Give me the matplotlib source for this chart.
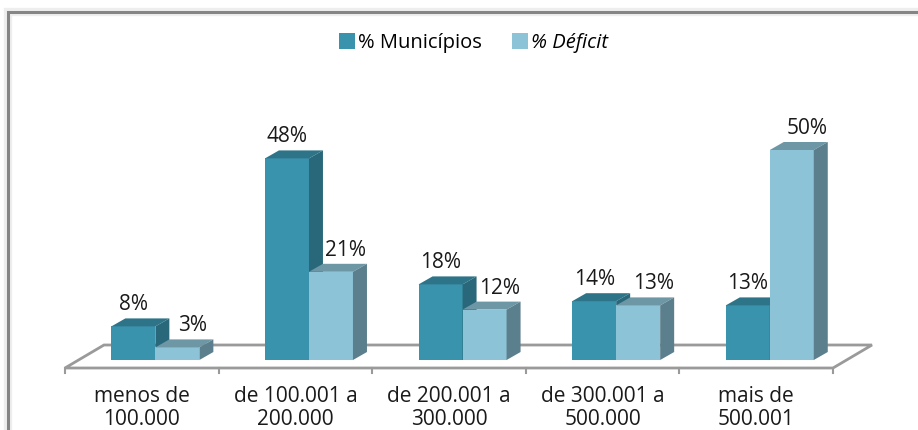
import matplotlib
matplotlib.use("Agg")
from matplotlib import pyplot as plt
from matplotlib.patches import Polygon, Rectangle, Patch

plt.rcParams['font.family'] = ['Open Sans', 'DejaVu Sans']

categories = ['menos de\n100.000', 'de 100.001 a\n200.000', 'de 200.001 a\n300.000',
              'de 300.001 a\n500.000', 'mais de\n500.001']
municipios = [8, 48, 18, 14, 13]
deficit = [3, 21, 12, 13, 50]
series_names = ['% Municípios', '% Déficit']

# colours: front, top, side
MUN_COL = ('#3a93ad', '#2e7488', '#29687a')
DEF_COL = ('#8dc3d7', '#6e97a6', '#5b7f8c')

# pixel scale of the picture -> data units
PX_X = 153.6   # pixels per category
PX_Y = 4.2     # pixels per percent

BAR_W = 44 / PX_X
FLOOR_DX, FLOOR_DY = 39 / PX_X, 23 / PX_Y
BAR_DX, BAR_DY = 14 / PX_X, 8 / PX_Y
FLOOR_Y = -8 / PX_Y
SHIFT = (8 / 23) * FLOOR_DX
FS = 15

fig = plt.figure(figsize=(9.18, 4.30), dpi=100)
ax = fig.add_axes([0, 0, 1, 1])
ax.set_xlim(-0.5 - 65 / PX_X, -0.5 + (918 - 65) / PX_X)
ax.set_ylim((360 - 430) / PX_Y, 360 / PX_Y)
ax.axis('off')

# outer frame
ax.add_patch(Rectangle((8 / 918, -0.2), 1.2, 1 - 12 / 430 + 0.2, transform=ax.transAxes,
                       fill=False, ec='#eeeeee', lw=6, clip_on=False))
ax.add_patch(Rectangle((8 / 918, -0.2), 1.2, 1 - 12 / 430 + 0.2, transform=ax.transAxes,
                       fill=False, ec='#858585', lw=2.2, clip_on=False))

# floor
n = len(categories)
x0, x1 = -0.5, n - 0.5
floor = Polygon([(x0, FLOOR_Y), (x1, FLOOR_Y), (x1 + FLOOR_DX, FLOOR_Y + FLOOR_DY),
                 (x0 + FLOOR_DX, FLOOR_Y + FLOOR_DY)], closed=True,
                fc='white', ec='#9a9a9a', lw=2, zorder=1)
ax.add_patch(floor)
for k in range(n + 1):
    ax.plot([x0 + k, x0 + k], [FLOOR_Y, FLOOR_Y - 5 / PX_Y], color='#9a9a9a', lw=1.5, zorder=1)


def bar3d(left, h, cols, z):
    front, top, side = cols
    base = 0
    r = left + BAR_W
    ax.add_patch(Polygon([(left, base), (r, base), (r, h), (left, h)], closed=True,
                         fc=front, ec='none', zorder=z))
    ax.add_patch(Polygon([(left, h), (r, h), (r + BAR_DX, h + BAR_DY), (left + BAR_DX, h + BAR_DY)],
                         closed=True, fc=top, ec='none', zorder=z))
    ax.add_patch(Polygon([(r, base), (r + BAR_DX, base + BAR_DY), (r + BAR_DX, h + BAR_DY), (r, h)],
                         closed=True, fc=side, ec='none', zorder=z))


for i in range(n):
    xm = i + SHIFT - BAR_W
    xd = i + SHIFT
    bar3d(xm, municipios[i], MUN_COL, 2 + 2 * i)
    bar3d(xd, deficit[i], DEF_COL, 3 + 2 * i)
    ax.text(xm + BAR_W / 2, municipios[i] + 5.1, f'{municipios[i]}%', ha='center', va='center',
            fontsize=FS, color='#1a1a1a', zorder=20)
    ax.text(xd + BAR_W / 2 + 15 / PX_X, deficit[i] + 5.1, f'{deficit[i]}%', ha='center', va='center',
            fontsize=FS, color='#1a1a1a', zorder=20)
    ax.text(i, (360 - 408) / PX_Y, categories[i], ha='center', va='center', fontsize=FS,
            linespacing=1.15, color='#1a1a1a')

handles = [Patch(fc=MUN_COL[0], ec='none'), Patch(fc=DEF_COL[0], ec='none')]
leg = fig.legend(handles, series_names, loc='center', bbox_to_anchor=(0.516, 1 - 43 / 430),
                 ncol=2, frameon=False, fontsize=14.5, handlelength=0.8, handleheight=0.8,
                 handletextpad=0.15, columnspacing=1.5)
leg.get_texts()[1].set_fontstyle('italic')

fig.savefig('out.png', dpi=100)
